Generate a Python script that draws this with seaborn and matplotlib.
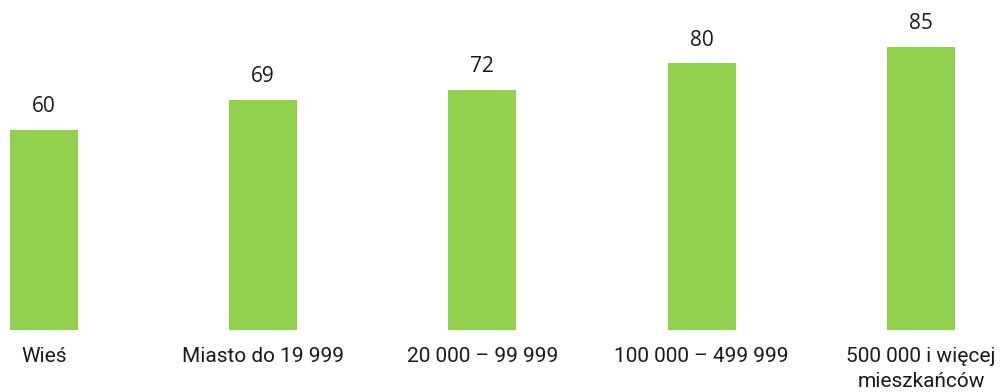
import matplotlib
matplotlib.use("Agg")
import matplotlib.pyplot as plt
import seaborn as sns
import pandas as pd

# Data
categories = ["Wieś", "Miasto do 19 999", "20 000 – 99 999",
              "100 000 – 499 999", "500 000 i więcej\nmieszkańców"]
values = [60, 69, 72, 80, 85]

df = pd.DataFrame({"category": categories, "value": values})

sns.set_style("white")
plt.rcParams["font.family"] = ["Roboto", "DejaVu Sans"]

fig = plt.figure(figsize=(10.02, 3.92), dpi=100)
ax = fig.add_axes([0, 1 - 330 / 392, 1, 330 / 392])

sns.barplot(data=df, x="category", y="value", color="#92D050",
            saturation=1, width=0.31, linewidth=0, ax=ax)

# value labels above bars
for i, v in enumerate(values):
    ax.annotate(str(v), (i, v), xytext=(0, 9), textcoords="offset points",
                ha="center", va="bottom", fontsize=15, color="#1a1a1a",
                family=["Open Sans", "DejaVu Sans"])

ax.set_ylim(0, 99)
ax.set_xlim(-0.2, 4.37)
ax.set_xlabel("")
ax.set_ylabel("")
ax.set_yticks([])
ax.tick_params(axis="x", length=0, pad=12, labelsize=15, colors="#1a1a1a")
for lbl in ax.get_xticklabels():
    lbl.set_verticalalignment("top")
    lbl.set_linespacing(1.45)
sns.despine(ax=ax, left=True, bottom=True)

fig.savefig("out.png", dpi=100)
